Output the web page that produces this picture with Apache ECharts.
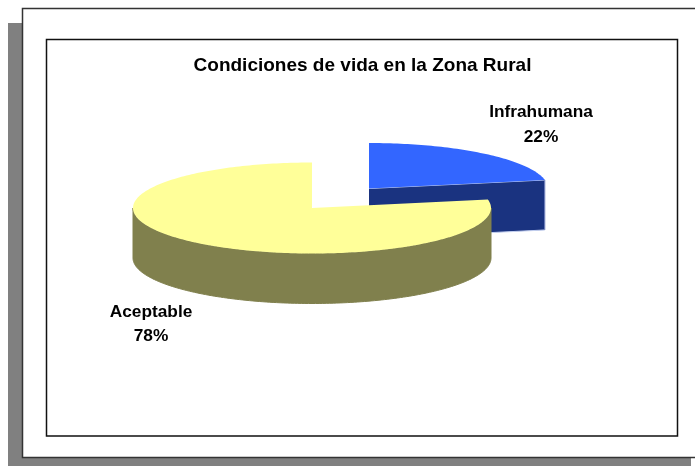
<!DOCTYPE html>
<html>
<head>
<meta charset="utf-8">
<style>
html, body { margin: 0; padding: 0; background: #fff; }
#chart { width: 695px; height: 466px; }
</style>
<script src="https://cdn.jsdelivr.net/npm/echarts@6/dist/echarts.min.js"></script>
</head>
<body>
<div id="chart"></div>
<script>
const titleText = 'Condiciones de vida en la Zona Rural';
const categories = ['Infrahumana', 'Aceptable'];
const seriesValues = [22, 78];
const topColors = ['#3366ff', '#ffff99'];
const sideColors = ['#1a3380', '#80804d'];

const fontFamily = '"Liberation Sans", Arial, sans-serif';
const total = seriesValues.reduce((a, b) => a + b, 0);

// 3d pie geometry
const cx = 312, cy = 208, rx = 179, ry = 45.5, depth = 50;
const explode = [{ dx: 57, dy: -19.5 }, { dx: 0, dy: 0 }];
const labelPos = [[541, 124.5], [151, 324]];

function pointAt(angle, ox, oy, drop) {
    return [ox + rx * Math.sin(angle), oy - ry * Math.cos(angle) + drop];
}

function arcPoints(from, to, ox, oy, drop) {
    const pts = [];
    const steps = Math.max(2, Math.ceil(Math.abs(to - from) / 0.02));
    for (let i = 0; i <= steps; i++) {
        pts.push(pointAt(from + (to - from) * i / steps, ox, oy, drop));
    }
    return pts;
}

function renderSlice(params, api) {
    const i = params.dataIndex;
    const before = seriesValues.slice(0, i).reduce((a, b) => a + b, 0);
    const start = before / total * Math.PI * 2;
    const end = (before + api.value(0)) / total * Math.PI * 2;
    const ox = cx + explode[i].dx, oy = cy + explode[i].dy;
    const children = [];

    // outer wall, only the part facing the viewer
    const wallFrom = Math.max(start, Math.PI / 2);
    const wallTo = Math.min(end, Math.PI * 1.5);
    if (wallTo > wallFrom) {
        const wall = arcPoints(wallFrom, wallTo, ox, oy, 0)
            .concat(arcPoints(wallTo, wallFrom, ox, oy, depth));
        children.push({ type: 'polygon', shape: { points: wall }, style: { fill: sideColors[i], stroke: sideColors[i], lineWidth: 1 } });
    }

    // cut wall from the centre to the end of the slice
    if (end < Math.PI / 2) {
        const tip = pointAt(end, ox, oy, 0);
        const cut = [[ox, oy], tip, [tip[0], tip[1] + depth], [ox, oy + depth]];
        children.push({ type: 'polygon', shape: { points: cut }, style: { fill: sideColors[i] } });
        children.push({ type: 'line', shape: { x1: ox, y1: oy, x2: tip[0], y2: tip[1] }, style: { stroke: '#c4d0f0', lineWidth: 1 } });
        children.push({ type: 'line', shape: { x1: ox, y1: oy + depth, x2: tip[0], y2: tip[1] + depth }, style: { stroke: '#c4d0f0', lineWidth: 1 } });
        children.push({ type: 'line', shape: { x1: tip[0], y1: tip[1], x2: tip[0], y2: tip[1] + depth }, style: { stroke: '#8090c8', lineWidth: 1 } });
    }

    // top face
    const top = [[ox, oy]].concat(arcPoints(start, end, ox, oy, 0));
    children.push({ type: 'polygon', shape: { points: top }, style: { fill: topColors[i] } });

    children.push({
        type: 'text',
        style: {
            x: labelPos[i][0],
            y: labelPos[i][1],
            text: api.value(1) + '\n' + api.value(0) + '%',
            align: 'center',
            verticalAlign: 'middle',
            fill: '#000',
            font: 'bold 17.3px ' + fontFamily,
            lineHeight: 24.5
        }
    });
    return { type: 'group', children: children };
}

const myChart = echarts.init(document.getElementById('chart'), null, { renderer: 'canvas' });
myChart.setOption({
    animation: false,
    backgroundColor: '#fff',
    title: {
        text: titleText,
        left: 357.5,
        textAlign: 'center',
        top: 51,
        textStyle: { fontFamily: fontFamily, fontWeight: 'bold', fontSize: 19, color: '#000' }
    },
    graphic: [
        { type: 'rect', z: -3, shape: { x: 8, y: 23, width: 683, height: 443 }, style: { fill: '#808080' } },
        { type: 'rect', z: -2, shape: { x: 22.5, y: 8.5, width: 680, height: 449 }, style: { fill: '#fff', stroke: '#333', lineWidth: 1.5 } },
        { type: 'rect', z: -1, shape: { x: 46.5, y: 39.5, width: 631, height: 396.5 }, style: { fill: '#fff', stroke: '#111', lineWidth: 1.5 } }
    ],
    series: [{
        type: 'custom',
        coordinateSystem: 'none',
        silent: true,
        renderItem: renderSlice,
        encode: { value: 0 },
        data: categories.map((name, i) => [seriesValues[i], name])
    }]
});
</script>
</body>
</html>
